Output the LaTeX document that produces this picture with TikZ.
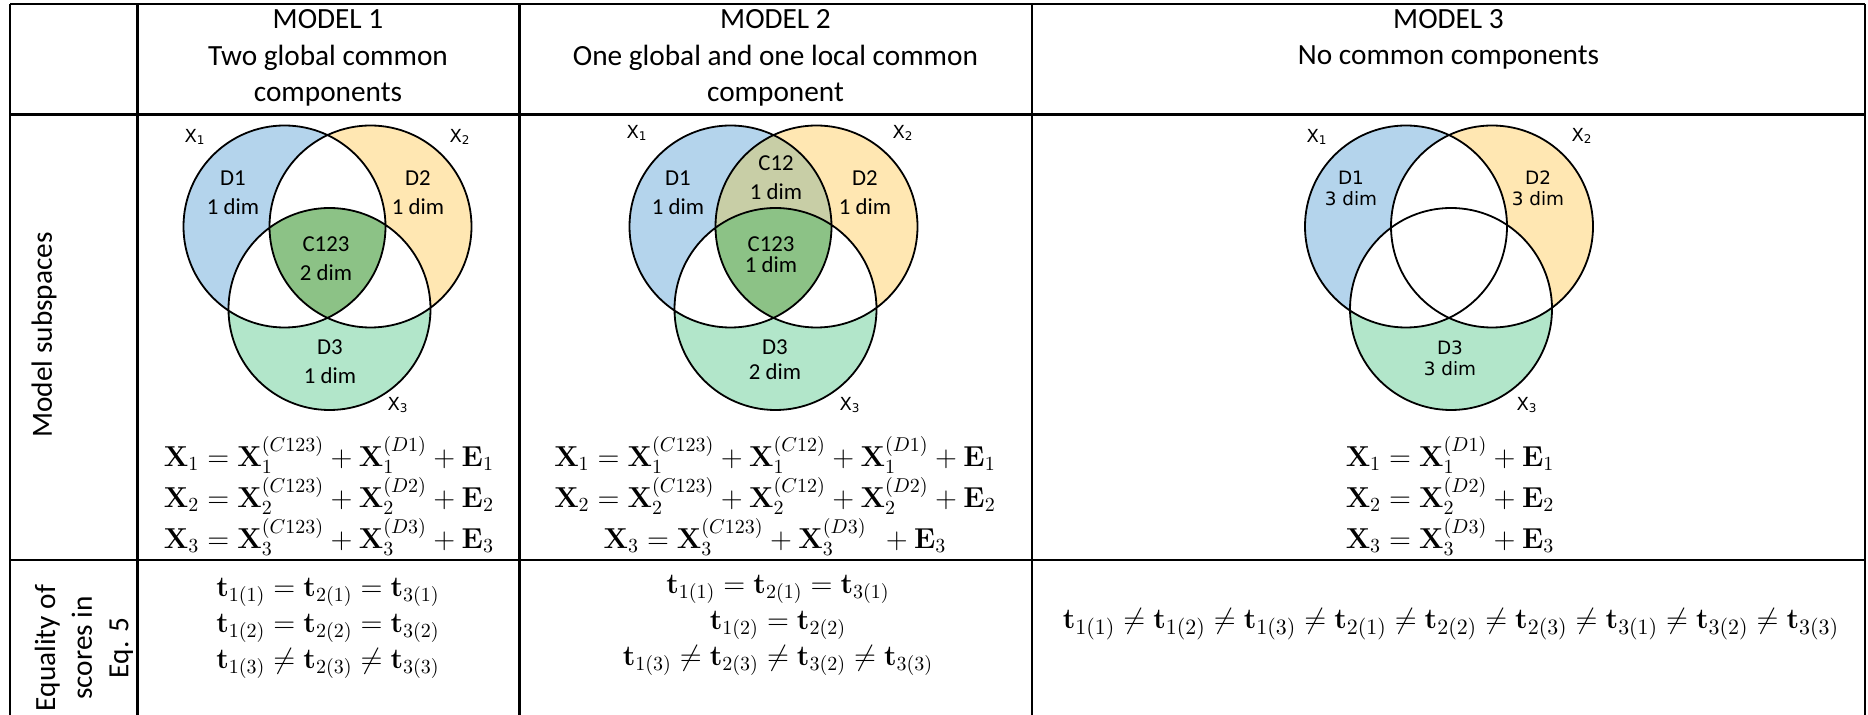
\documentclass[tikz,border=0pt]{standalone}
\usepackage{amsmath}
\usepackage[no-math]{fontspec}
\setmainfont{Carlito}
\newfontfamily\vennfont{DejaVu Sans}
\usetikzlibrary{positioning}

\definecolor{vblue}{RGB}{180,212,236}
\definecolor{vyellow}{RGB}{255,231,178}
\definecolor{vgreen}{RGB}{178,230,202}
\definecolor{vdark}{RGB}{140,194,134}
\definecolor{volive}{RGB}{200,206,166}

% the three data sets of one Venn diagram
\newcommand{\setA}{(-43,-41.5) circle[radius=101]}
\newcommand{\setB}{(43,-41.5) circle[radius=101]}
\newcommand{\setC}{(2,41) circle[radius=101]}

\begin{document}
\begin{tikzpicture}[
    x=0.5pt, y=-0.5pt,
    grid/.style={line width=1.35pt},
    ring/.style={line width=0.9pt},
    head/.style={align=center, inner sep=0pt, font=\fontsize{14.65}{18.3}\selectfont},
    side/.style={rotate=90, align=center, inner sep=0pt, font=\fontsize{14.65}{18.3}\selectfont},
    vlab/.style={align=center, inner sep=0pt, font=\fontsize{11.4}{14.5}\selectfont},
    vlabc/.style={align=center, inner sep=0pt, font=\vennfont\fontsize{9.2}{10.5}\selectfont},
    setname/.style={inner sep=0pt, font=\vennfont\fontsize{9}{11}\selectfont},
    eqn/.style={align=center, inner sep=0pt, font=\fontsize{14.65}{20.5}\selectfont},
    score/.style={align=center, inner sep=0pt, font=\fontsize{14.65}{18}\selectfont},
]

\path[use as bounding box, fill=white] (0,0) rectangle (1868,715);

% Table rules
\draw[grid] (10,4) -- (1865,4) (10,114.5) -- (1865,114.5) (10,560) -- (1865,560);
\draw[grid] (10,4) -- (10,715) (137.5,4) -- (137.5,715) (519.5,4) -- (519.5,715)
    (1032,4) -- (1032,715) (1865,4) -- (1865,715);

% Header row
\node[head] (head1) at (328,58) {MODEL 1\\Two global common\\components};
\node[head] (head2) at (775.5,58) {MODEL 2\\One global and one local common\\component};
\node[head] (head3) at (1448.5,39.5) {MODEL 3\\No common components};

% Row labels
\node[side] (lblsub) at (44,335) {Model subspaces};
\node[side] (lbleq) at (84,648) {Equality of\\scores in\\Eq. 5};

% Model 1: two global common components
\begin{scope}[shift={(327.5,268)}]
    \fill[vblue] \setA; \fill[vyellow] \setB; \fill[vgreen] \setC;
    \begin{scope} \clip \setA; \fill[white] \setB; \fill[white] \setC; \end{scope}
    \begin{scope} \clip \setB; \fill[white] \setC; \end{scope}
    \begin{scope} \clip \setA; \clip \setB; \fill[vdark] \setC; \end{scope}
    \draw[ring] \setA \setB \setC;
\end{scope}
\node[setname] (m1x1) at (195,137) {X\textsubscript{1}};
\node[setname] (m1x2) at (460,137) {X\textsubscript{2}};
\node[setname] (m1x3) at (398,405) {X\textsubscript{3}};
\node[vlab] (m1d1) at (233,192.5) {D1\\1 dim};
\node[vlab] (m1d2) at (418,192.5) {D2\\1 dim};
\node[vlab] (m1c123) at (326,259) {C123\\2 dim};
\node[vlab] (m1d3) at (330,361.5) {D3\\1 dim};

% Model 2: one global and one local common component
\begin{scope}[shift={(773.5,268)}]
    \fill[vblue] \setA; \fill[vyellow] \setB; \fill[vgreen] \setC;
    \begin{scope} \clip \setA; \fill[volive] \setB; \fill[white] \setC; \end{scope}
    \begin{scope} \clip \setB; \fill[white] \setC; \end{scope}
    \begin{scope} \clip \setA; \clip \setB; \fill[vdark] \setC; \end{scope}
    \draw[ring] \setA \setB \setC;
\end{scope}
\node[setname] (m2x1) at (637,133) {X\textsubscript{1}};
\node[setname] (m2x2) at (903,133) {X\textsubscript{2}};
\node[setname] (m2x3) at (850,405) {X\textsubscript{3}};
\node[vlab] (m2d1) at (678,192.5) {D1\\1 dim};
\node[vlab] (m2d2) at (865,192.5) {D2\\1 dim};
\node[vlab] (m2c12) at (776,178) {C12\\1 dim};
\node[vlab] (m2c123) at (771,255) {C123\\[-4pt]1 dim};
\node[vlab] (m2d3) at (775,359.5) {D3\\[-2pt]2 dim};

% Model 3: no common components
\begin{scope}[shift={(1449,268)}]
    \fill[vblue] \setA; \fill[vyellow] \setB; \fill[vgreen] \setC;
    \begin{scope} \clip \setA; \fill[white] \setB; \fill[white] \setC; \end{scope}
    \begin{scope} \clip \setB; \fill[white] \setC; \end{scope}
    \draw[ring] \setA \setB \setC;
\end{scope}
\node[setname] (m3x1) at (1317,137) {X\textsubscript{1}};
\node[setname] (m3x2) at (1582,136) {X\textsubscript{2}};
\node[setname] (m3x3) at (1527,405) {X\textsubscript{3}};
\node[vlabc] (m3d1) at (1351,188) {D1\\3 dim};
\node[vlabc] (m3d2) at (1538,188) {D2\\3 dim};
\node[vlabc] (m3d3) at (1450,358.5) {D3\\3 dim};

% Model equations
\node[eqn] (eq1) at (329,496) {%
    $\mathbf{X}_1 = \mathbf{X}_1^{(C123)} + \mathbf{X}_1^{(D1)} + \mathbf{E}_1$\\
    $\mathbf{X}_2 = \mathbf{X}_2^{(C123)} + \mathbf{X}_2^{(D2)} + \mathbf{E}_2$\\
    $\mathbf{X}_3 = \mathbf{X}_3^{(C123)} + \mathbf{X}_3^{(D3)} + \mathbf{E}_3$};
\node[eqn] (eq2) at (775,496) {%
    $\mathbf{X}_1 = \mathbf{X}_1^{(C123)} + \mathbf{X}_1^{(C12)} + \mathbf{X}_1^{(D1)} + \mathbf{E}_1$\\
    $\mathbf{X}_2 = \mathbf{X}_2^{(C123)} + \mathbf{X}_2^{(C12)} + \mathbf{X}_2^{(D2)} + \mathbf{E}_2$\\
    $\mathbf{X}_3 = \mathbf{X}_3^{(C123)} + \mathbf{X}_3^{(D3)}\;\, + \mathbf{E}_3$};
\node[eqn, align=left] (eq3) at (1450,496) {%
    $\mathbf{X}_1 = \mathbf{X}_1^{(D1)} + \mathbf{E}_1$\\
    $\mathbf{X}_2 = \mathbf{X}_2^{(D2)} + \mathbf{E}_2$\\
    $\mathbf{X}_3 = \mathbf{X}_3^{(D3)} + \mathbf{E}_3$};

% Score equalities
\node[score] (sc1) at (328,628) {%
    $\mathbf{t}_{1(1)} = \mathbf{t}_{2(1)} = \mathbf{t}_{3(1)}$\\
    $\mathbf{t}_{1(2)} = \mathbf{t}_{2(2)} = \mathbf{t}_{3(2)}$\\
    $\mathbf{t}_{1(3)} \neq \mathbf{t}_{2(3)} \neq \mathbf{t}_{3(3)}$};
\node[score] (sc2) at (778,625) {%
    $\mathbf{t}_{1(1)} = \mathbf{t}_{2(1)} = \mathbf{t}_{3(1)}$\\
    $\mathbf{t}_{1(2)} = \mathbf{t}_{2(2)}$\\
    $\mathbf{t}_{1(3)} \neq \mathbf{t}_{2(3)} \neq \mathbf{t}_{3(2)} \neq \mathbf{t}_{3(3)}$};
\node[score, font=\fontsize{15.7}{18}\selectfont] (sc3) at (1451,624) {%
    $\mathbf{t}_{1(1)} \neq \mathbf{t}_{1(2)} \neq \mathbf{t}_{1(3)} \neq \mathbf{t}_{2(1)} \neq \mathbf{t}_{2(2)}
    \neq \mathbf{t}_{2(3)} \neq \mathbf{t}_{3(1)} \neq \mathbf{t}_{3(2)} \neq \mathbf{t}_{3(3)}$};

\end{tikzpicture}
\end{document}
